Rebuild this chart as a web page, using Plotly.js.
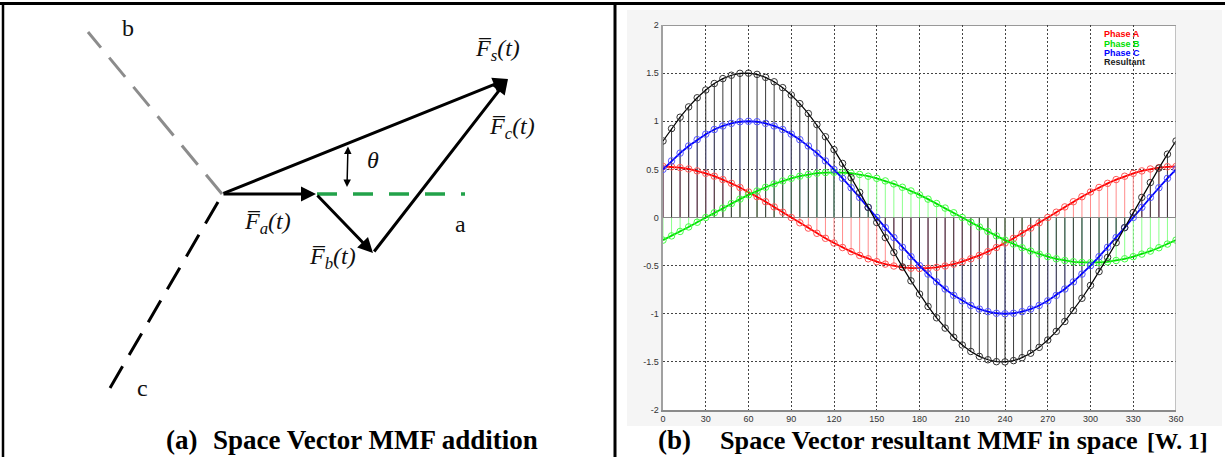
<!DOCTYPE html>
<html>
<head>
<meta charset="utf-8">
<script src="https://cdn.plot.ly/plotly-3.0.1.min.js"></script>
<style>html,body{margin:0;padding:0;background:#fff;}#chart{width:1225px;height:457px;}</style>
</head>
<body>
<div id="chart"></div>
<script>
// ---------- Right panel data (space angle in degrees, MMF values) ----------
const angles = [0,6,12,18,24,30,36,42,48,54,60,66,72,78,84,90,96,102,108,114,120,126,132,138,144,150,156,162,168,174,180,186,192,198,204,210,216,222,228,234,240,246,252,258,264,270,276,282,288,294,300,306,312,318,324,330,336,342,348,354,360];
const phaseA = [0.53,0.527,0.518,0.504,0.484,0.459,0.429,0.394,0.355,0.312,0.265,0.216,0.164,0.110,0.055,0,-0.055,-0.110,-0.164,-0.216,-0.265,-0.312,-0.355,-0.394,-0.429,-0.459,-0.484,-0.504,-0.518,-0.527,-0.53,-0.527,-0.518,-0.504,-0.484,-0.459,-0.429,-0.394,-0.355,-0.312,-0.265,-0.216,-0.164,-0.110,-0.055,0,0.055,0.110,0.164,0.216,0.265,0.312,0.355,0.394,0.429,0.459,0.484,0.504,0.518,0.527,0.53];
const phaseB = [-0.235,-0.191,-0.145,-0.098,-0.049,0,0.049,0.098,0.145,0.191,0.235,0.276,0.314,0.349,0.380,0.407,0.429,0.447,0.460,0.467,0.47,0.467,0.460,0.447,0.429,0.407,0.380,0.349,0.314,0.276,0.235,0.191,0.145,0.098,0.049,0,-0.049,-0.098,-0.145,-0.191,-0.235,-0.276,-0.314,-0.349,-0.380,-0.407,-0.429,-0.447,-0.460,-0.467,-0.47,-0.467,-0.460,-0.447,-0.429,-0.407,-0.380,-0.349,-0.314,-0.276,-0.235];
const phaseC = [0.5,0.588,0.669,0.743,0.809,0.866,0.914,0.951,0.978,0.995,1,0.995,0.978,0.951,0.914,0.866,0.809,0.743,0.669,0.588,0.5,0.407,0.309,0.208,0.105,0,-0.105,-0.208,-0.309,-0.407,-0.5,-0.588,-0.669,-0.743,-0.809,-0.866,-0.914,-0.951,-0.978,-0.995,-1,-0.995,-0.978,-0.951,-0.914,-0.866,-0.809,-0.743,-0.669,-0.588,-0.5,-0.407,-0.309,-0.208,-0.105,0,0.105,0.208,0.309,0.407,0.5];
const resultant = [0.795,0.924,1.042,1.149,1.244,1.325,1.392,1.443,1.478,1.498,1.500,1.487,1.456,1.410,1.349,1.273,1.183,1.080,0.965,0.839,0.705,0.562,0.414,0.261,0.105,-0.052,-0.209,-0.363,-0.513,-0.658,-0.795,-0.924,-1.042,-1.149,-1.244,-1.325,-1.392,-1.443,-1.478,-1.498,-1.500,-1.487,-1.456,-1.410,-1.349,-1.273,-1.183,-1.080,-0.965,-0.839,-0.705,-0.562,-0.414,-0.261,-0.105,0.052,0.209,0.363,0.513,0.658,0.795];
const seriesNames = ['Phase A','Phase B','Phase C','Resultant'];
const xTickVals = [0,30,60,90,120,150,180,210,240,270,300,330,360];
const xTickText = ['0','30','60','90','120','150','180','210','240','270','300','330','360'];
const yTickVals = [-2,-1.5,-1,-0.5,0,0.5,1,1.5,2];
const yTickText = ['-2','-1.5','-1','-0.5','0','0.5','1','1.5','2'];

// ---------- Left panel data (vector diagram, diagram units) ----------
const vectorNames = ['Fa','Fb','Fc','Fs'];
const vectorTailX = [0, 94, 151, 0];
const vectorTailY = [0, 0, -59, 0];
const vectorTipX  = [94, 151, 286, 286];
const vectorTipY  = [0, -59, 115, 115];
const axisNames  = ['a','b','c'];
const axisStartX = [95, 0, -4];
const axisStartY = [0, 0, -8];
const axisEndX   = [243, -134, -112];
const axisEndY   = [0, 162, -194];
const thetaArrowX = [126, 125];
const thetaArrowY = [49, 7];

// ---------- build traces ----------
const lineColors   = ['#ff0000','#00e000','#0000ff','#000000'];
const markerColors = ['#ff5555','#44ff44','#5555ff','#333333'];
const stemColors   = ['#ff8c8c','#8cff8c','#8c8cff','#3a3a3a'];
const seriesVals = [phaseA, phaseB, phaseC, resultant];

function stems(vals){
  const xs=[], ys=[];
  for (let i=0;i<angles.length;i++){ xs.push(angles[i],angles[i],null); ys.push(0,vals[i],null); }
  return {xs, ys};
}

const traces = [];
[2,0,1,3].forEach(k=>{
  const s = stems(seriesVals[k]);
  traces.push({x:s.xs, y:s.ys, type:'scatter', mode:'lines', xaxis:'x', yaxis:'y',
    line:{color:stemColors[k], width:1}, hoverinfo:'skip', showlegend:false});
});
[0,1,2,3].forEach(k=>{
  traces.push({x:angles, y:seriesVals[k], type:'scatter', mode:'lines+markers', name:seriesNames[k],
    xaxis:'x', yaxis:'y',
    line:{color:lineColors[k], width:k===3?1.2:1.8},
    marker:{symbol:'circle-open', size:6.5, color:markerColors[k], line:{width:1, color:markerColors[k]}},
    showlegend:false});
});

const axisStyles = [
  {color:'#22a24a', width:3.5, dash:'20px,16px'},
  {color:'#8c8c8c', width:3, dash:'25px,13px'},
  {color:'#000000', width:3, dash:'25px,13px'}
];
axisNames.forEach((n,i)=>{
  traces.push({x:[axisStartX[i],axisEndX[i]], y:[axisStartY[i],axisEndY[i]], type:'scatter', mode:'lines',
    xaxis:'x2', yaxis:'y2', line:axisStyles[i], hoverinfo:'skip', showlegend:false});
});

const W = 1225, H = 457;
const px = v => v / W;
const py = v => 1 - v / H;

const annotations = [];
vectorNames.forEach((n,i)=>{
  annotations.push({xref:'x2', yref:'y2', axref:'x2', ayref:'y2',
    x:vectorTipX[i], y:vectorTipY[i], ax:vectorTailX[i], ay:vectorTailY[i],
    text:'', showarrow:true, arrowhead:2, arrowsize:1, arrowwidth:3, arrowcolor:'#000', standoff:0});
});
annotations.push({xref:'x2', yref:'y2', axref:'x2', ayref:'y2',
  x:thetaArrowX[1], y:thetaArrowY[1], ax:thetaArrowX[0], ay:thetaArrowY[0],
  text:'', showarrow:true, arrowhead:2, startarrowhead:2, arrowside:'end+start', arrowsize:1, startarrowsize:1, arrowwidth:1.5, arrowcolor:'#000', standoff:0, startstandoff:0});

const serif = 'Liberation Serif, Times New Roman, serif';
function lab(x,y,t,size){ return {xref:'x2', yref:'y2', x, y, text:t, showarrow:false, font:{family:serif, size:size, color:'#111'}, xanchor:'center', yanchor:'middle'}; }
annotations.push(lab(-94,166,'b',24));
annotations.push(lab(-80,-194,'c',24));
annotations.push(lab(238,-30,'a',24));
annotations.push(lab(275,144,'<i>F\u0305<sub>s</sub>(t)</i>',24));
annotations.push(lab(290,66,'<i>F\u0305<sub>c</sub>(t)</i>',24));
annotations.push(lab(45,-29,'<i>F\u0305<sub>a</sub>(t)</i>',24));
annotations.push(lab(110,-64,'<i>F\u0305<sub>b</sub>(t)</i>',24));
annotations.push(lab(151,34,'<i>θ</i>',24));

const legY = [34.5,43.8,53.1,62.4];
seriesNames.forEach((n,i)=>{
  annotations.push({xref:'paper', yref:'paper', x:px(1103), y:py(legY[i]), xanchor:'left', yanchor:'middle',
    text:'<b>'+n+'</b>', showarrow:false, borderpad:0,
    font:{family:'Liberation Sans, Arial, sans-serif', size:9, color:i===3?'#222':lineColors[i]}});
});

const capFont = {family:serif, size:27, color:'#000'};
annotations.push({xref:'paper', yref:'paper', x:px(164), y:py(440), xanchor:'left', yanchor:'middle', showarrow:false, text:'<b>(a)</b>', font:capFont});
annotations.push({xref:'paper', yref:'paper', x:px(211), y:py(440), xanchor:'left', yanchor:'middle', showarrow:false, text:'<b>Space Vector MMF addition</b>', font:capFont});
annotations.push({xref:'paper', yref:'paper', x:px(656), y:py(440), xanchor:'left', yanchor:'middle', showarrow:false, text:'<b>(b)</b>', font:capFont});
annotations.push({xref:'paper', yref:'paper', x:px(718), y:py(440), xanchor:'left', yanchor:'middle', showarrow:false, text:'<b>Space Vector resultant MMF in space</b>', font:{family:serif, size:26.2, color:'#000'}});
annotations.push({xref:'paper', yref:'paper', x:px(1145), y:py(441), xanchor:'left', yanchor:'middle', showarrow:false, text:'<b>[W. 1]</b>', font:{family:serif, size:23.5, color:'#000'}});

const shapes = [
  {type:'rect', xref:'paper', yref:'paper', x0:px(627), x1:px(1222), y0:py(426), y1:py(10), fillcolor:'#f5f5f5', line:{width:0}, layer:'below'},
  {type:'rect', xref:'x', yref:'y', x0:0, x1:360, y0:-2, y1:2, fillcolor:'#ffffff', line:{width:0}, layer:'below'},
  {type:'line', xref:'x', yref:'y', x0:0, x1:360, y0:2, y1:2, line:{color:'#333', width:1}},
  {type:'line', xref:'x', yref:'y', x0:360, x1:360, y0:-2, y1:2, line:{color:'#999', width:1.2}},
  {type:'line', xref:'paper', yref:'paper', x0:0, x1:1, y0:py(3.5), y1:py(3.5), line:{color:'#000', width:3}},
  {type:'line', xref:'paper', yref:'paper', x0:px(3), x1:px(3), y0:0, y1:py(3.5), line:{color:'#000', width:2.5}},
  {type:'line', xref:'paper', yref:'paper', x0:px(615), x1:px(615), y0:0, y1:py(3.5), line:{color:'#000', width:3}}
];

const tickFont = {family:'Liberation Sans Narrow, Arial Narrow, Liberation Sans, Arial, sans-serif', size:9, color:'#333'};
const layout = {
  width:W, height:H, margin:{l:0,r:0,t:0,b:0},
  paper_bgcolor:'#ffffff', plot_bgcolor:'rgba(0,0,0,0)',
  showlegend:false,
  xaxis:{domain:[px(663), px(1176)], range:[0,360], anchor:'y',
    tickvals:xTickVals, ticktext:xTickText, tickfont:tickFont, ticks:'',
    showgrid:true, gridcolor:'#444', gridwidth:1, griddash:'2px,2px',
    zeroline:false, showline:true, linecolor:'#8a8a8a', linewidth:1.5, fixedrange:true},
  yaxis:{domain:[py(410), py(25)], range:[-2,2], anchor:'x',
    tickvals:yTickVals, ticktext:yTickText, tickfont:tickFont, ticks:'',
    showgrid:true, gridcolor:'#444', gridwidth:1, griddash:'2px,2px',
    zeroline:true, zerolinecolor:'#888', zerolinewidth:1.5,
    showline:true, linecolor:'#a0a0a0', linewidth:2.5, fixedrange:true},
  xaxis2:{domain:[0, px(614)], range:[-222,392], anchor:'y2', visible:false, fixedrange:true},
  yaxis2:{domain:[0,1], range:[-263,194], anchor:'x2', visible:false, fixedrange:true},
  annotations, shapes
};

Plotly.newPlot('chart', traces, layout, {staticPlot:true, displayModeBar:false});
</script>
</body>
</html>
